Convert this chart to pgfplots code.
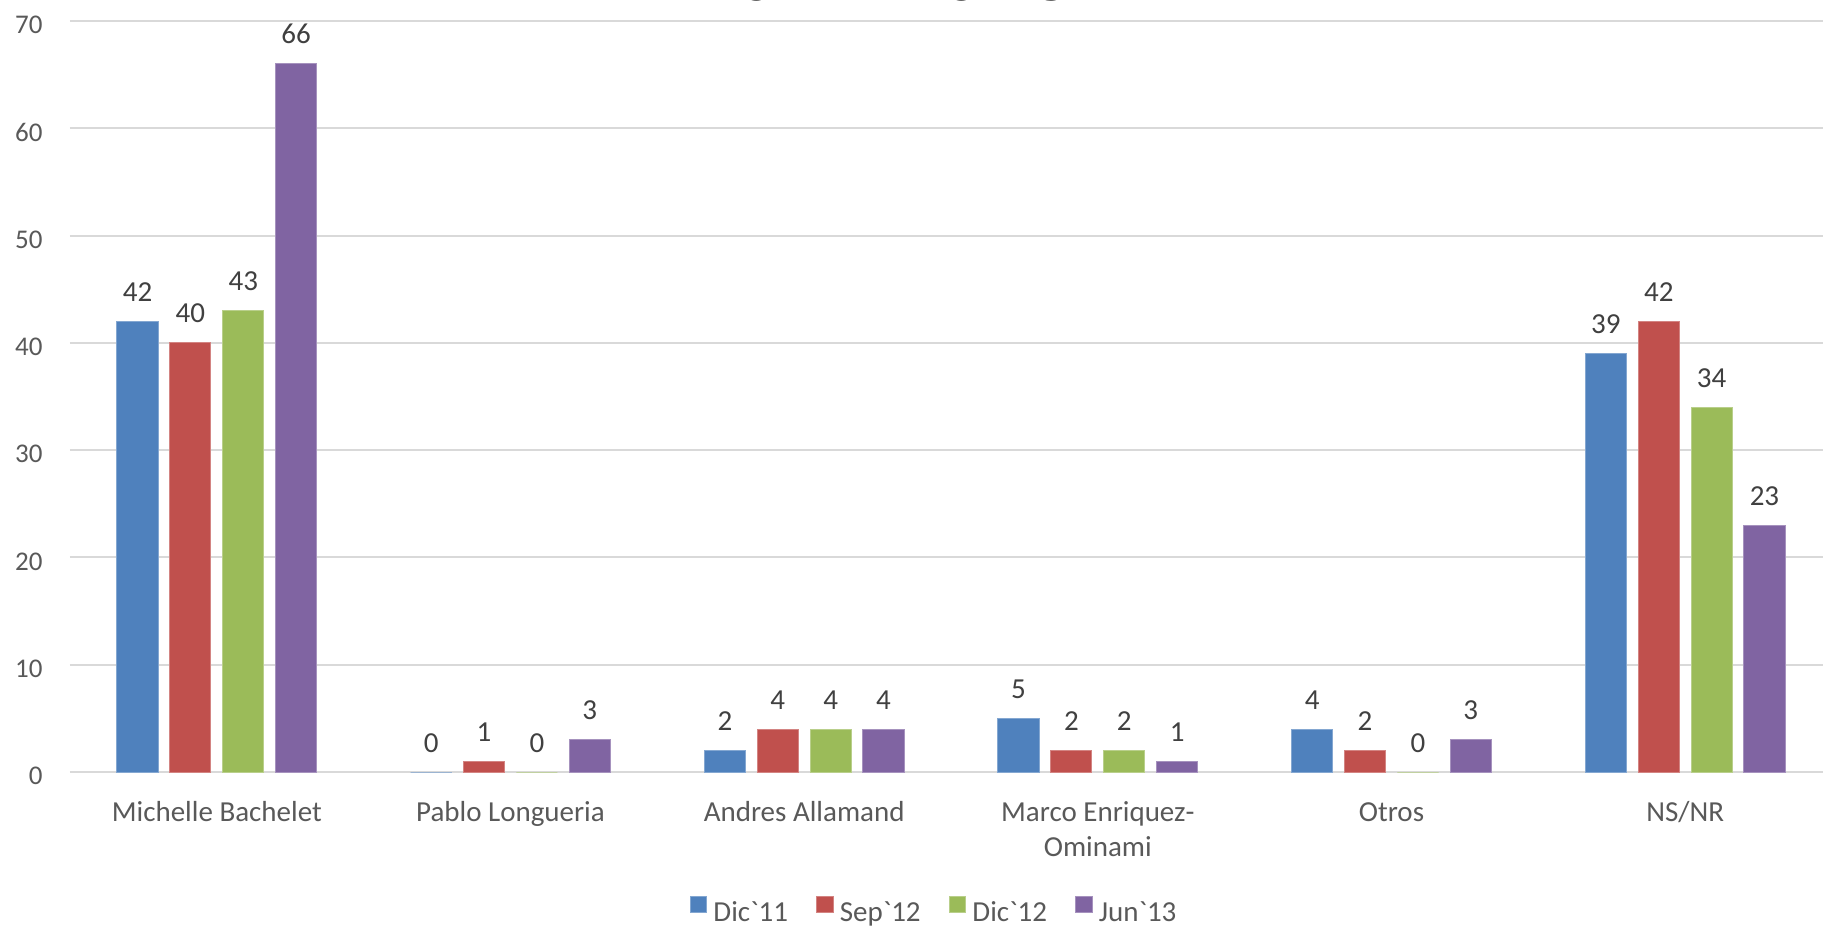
\documentclass[border=0pt]{standalone}
\usepackage{fontspec}
\setmainfont{Carlito}[Ligatures=TeXOff]
\usepackage{pgfplots}
\pgfplotsset{compat=1.18}
\definecolor{cblue}{HTML}{4F81BD}
\definecolor{cred}{HTML}{C0504D}
\definecolor{cgreen}{HTML}{9BBB59}
\definecolor{cpurple}{HTML}{8064A2}
\definecolor{gridgray}{HTML}{D9D9D9}
\definecolor{tickgray}{HTML}{595959}
\definecolor{labgray}{HTML}{404040}
\newcommand{\gr}{\symbol{96}}
\begin{document}
\begin{tikzpicture}
\useasboundingbox (0,0) rectangle (911.5pt,463pt);
\clip (0,0) rectangle (911.5pt,463pt);
\node[font=\fontsize{44}{50}\selectfont\bfseries, anchor=base, inner sep=0pt] at (440.75pt,462.5pt) {2011-2013};
\begin{axis}[
  at={(35pt,77pt)}, anchor=south west,
  scale only axis, width=881pt, height=375.5pt,
  /pgf/number format/assume math mode=true,
  ymin=0, ymax=70, ytick={0,10,...,70},
  xmin=-0.5, xmax=5.5,
  xtick={0,1,2,3,4,5},
  xticklabels={\strut Michelle Bachelet, \strut Pablo Longueria, \strut Andres Allamand, {\strut Marco Enriquez-\\Ominami}, \strut Otros, \strut NS/NR},
  axis x line*=bottom, axis y line*=left,
  x axis line style={draw=gridgray, line width=1.3pt},
  y axis line style={draw=none},
  ymajorgrids, grid style={draw=gridgray, line width=1pt},
  major tick length=0pt,
  ybar, bar width=0.14,
  legend image code/.code={\fill[#1] (0pt,0pt) rectangle (8.4pt,8.4pt);},
  yticklabel style={font=\fontsize{13.5}{15}\selectfont, text=tickgray, anchor=east, inner sep=0pt, xshift=-13.5pt, yshift=-2pt},
  xticklabel style={font=\fontsize{14.5}{17.75}\selectfont, text=tickgray, anchor=north, inner sep=0pt, yshift=-12.1pt, align=center},
  nodes near coords,
  nodes near coords style={font=\fontsize{14.5}{16}\selectfont, text=labgray, anchor=base, inner sep=0pt, yshift=10pt},
  legend style={at={(0.4915,-0.1864)}, anchor=center, draw=none, fill=none,
    font=\fontsize{14.5}{16}\selectfont, text=tickgray,
    nodes={inner xsep=3pt},
    /tikz/every even column/.append style={column sep=11pt}},
  legend columns=4,
]
\addplot[fill=cblue, draw=cblue!70!white, line width=0.5pt, bar shift=-0.27] coordinates {(0,42) (1,0) (2,2) (3,5) (4,4) (5,39)};
\addplot[fill=cred, draw=cred!70!white, line width=0.5pt, bar shift=-0.09] coordinates {(0,40) (1,1) (2,4) (3,2) (4,2) (5,42)};
\addplot[fill=cgreen, draw=cgreen!70!white, line width=0.5pt, bar shift=0.09] coordinates {(0,43) (1,0) (2,4) (3,2) (4,0) (5,34)};
\addplot[fill=cpurple, draw=cpurple!70!white, line width=0.5pt, bar shift=0.27] coordinates {(0,66) (1,3) (2,4) (3,1) (4,3) (5,23)};
\legend{Dic\gr11, Sep\gr12, Dic\gr12, Jun\gr13}
\end{axis}
\end{tikzpicture}
\end{document}
